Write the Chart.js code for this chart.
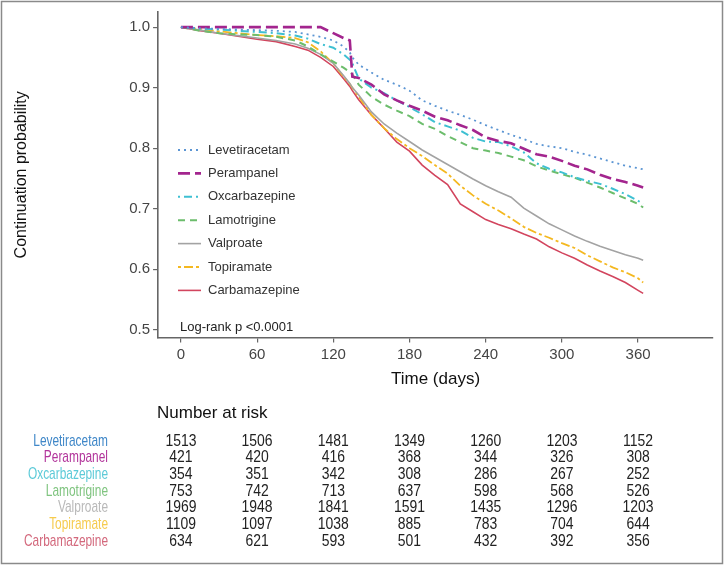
<!DOCTYPE html>
<html>
<head>
<meta charset="utf-8">
<script src="https://cdn.jsdelivr.net/npm/chart.js@4.4.1/dist/chart.umd.min.js"></script>
<style>
  html, body { margin: 0; padding: 0; background: #fff; }
  canvas { display: block; }
</style>
</head>
<body>
<canvas id="kmChart" width="724" height="565"></canvas>
<script>
// follow-up times (days) the curves are read at
const days = [0, 15, 30, 45, 60, 75, 90, 100, 110, 120, 128, 133, 135, 140, 150, 160, 170, 180, 190, 200, 210,
    220, 230, 240, 250, 260, 270, 280, 290, 300, 310, 320, 330, 340, 350, 360, 364];

const levetiracetam = [1.0, 0.998, 0.997, 0.996, 0.995, 0.994, 0.992, 0.988, 0.984, 0.978, 0.968, 0.958, 0.95, 0.938, 0.925, 0.913, 0.905, 0.895, 0.879, 0.87, 0.862,
    0.855, 0.847, 0.838, 0.83, 0.822, 0.815, 0.807, 0.803, 0.8, 0.794, 0.789, 0.783, 0.777, 0.771, 0.767, 0.765];
const perampanel = [1.0, 1.0, 1.0, 1.0, 1.0, 1.0, 1.0, 1.0, 1.0, 0.99, 0.982, 0.978, 0.918, 0.916, 0.905, 0.889, 0.879, 0.87, 0.862, 0.852, 0.846,
    0.838, 0.83, 0.818, 0.812, 0.808, 0.799, 0.79, 0.786, 0.779, 0.771, 0.765, 0.756, 0.749, 0.744, 0.738, 0.735];
const oxcarbazepine = [1.0, 0.998, 0.996, 0.994, 0.992, 0.99, 0.986, 0.981, 0.972, 0.966, 0.955, 0.946, 0.94, 0.915, 0.9, 0.891, 0.879, 0.868, 0.856, 0.843, 0.836,
    0.829, 0.817, 0.811, 0.81, 0.803, 0.793, 0.775, 0.766, 0.76, 0.752, 0.746, 0.741, 0.733, 0.724, 0.713, 0.708];
const lamotrigine = [1.0, 0.994, 0.99, 0.988, 0.987, 0.984, 0.978, 0.968, 0.955, 0.943, 0.933, 0.926, 0.922, 0.905, 0.885, 0.872, 0.862, 0.853, 0.84, 0.832, 0.82,
    0.81, 0.8, 0.796, 0.792, 0.786, 0.78, 0.77, 0.763, 0.757, 0.751, 0.743, 0.735, 0.726, 0.717, 0.708, 0.702];
const valproate = [1.0, 0.995, 0.99, 0.986, 0.982, 0.978, 0.972, 0.965, 0.955, 0.94, 0.92, 0.907, 0.9, 0.888, 0.86, 0.84, 0.825, 0.811, 0.797, 0.785, 0.773,
    0.761, 0.749, 0.738, 0.728, 0.719, 0.701, 0.688, 0.675, 0.665, 0.655, 0.646, 0.638, 0.631, 0.624, 0.618, 0.615];
const topiramate = [1.0, 0.997, 0.993, 0.99, 0.987, 0.985, 0.982, 0.975, 0.96, 0.94, 0.918, 0.906, 0.9, 0.885, 0.855, 0.833, 0.815, 0.8, 0.787, 0.772, 0.758,
    0.738, 0.722, 0.708, 0.697, 0.684, 0.67, 0.66, 0.652, 0.643, 0.635, 0.623, 0.613, 0.603, 0.595, 0.585, 0.578];
const carbamazepine = [1.0, 0.994, 0.99, 0.985, 0.98, 0.976, 0.968, 0.962, 0.95, 0.935, 0.915, 0.902, 0.895, 0.88, 0.855, 0.833, 0.81, 0.795, 0.772, 0.755, 0.74,
    0.708, 0.695, 0.682, 0.674, 0.667, 0.658, 0.65, 0.637, 0.627, 0.618, 0.607, 0.597, 0.588, 0.578, 0.565, 0.56];

const drugNames = ["Levetiracetam", "Perampanel", "Oxcarbazepine", "Lamotrigine", "Valproate", "Topiramate", "Carbamazepine"];

// number at risk, one row per drug, at the x tick times
const riskTimes = [0, 60, 120, 180, 240, 300, 360];
const riskLevetiracetam = [1513, 1506, 1481, 1349, 1260, 1203, 1152];
const riskPerampanel = [421, 420, 416, 368, 344, 326, 308];
const riskOxcarbazepine = [354, 351, 342, 308, 286, 267, 252];
const riskLamotrigine = [753, 742, 713, 637, 598, 568, 526];
const riskValproate = [1969, 1948, 1841, 1591, 1435, 1296, 1203];
const riskTopiramate = [1109, 1097, 1038, 885, 783, 704, 644];
const riskCarbamazepine = [634, 621, 593, 501, 432, 392, 356];

const yTicks = [0.5, 0.6, 0.7, 0.8, 0.9, 1.0];
const xTicks = [0, 60, 120, 180, 240, 300, 360];

const series = [levetiracetam, perampanel, oxcarbazepine, lamotrigine, valproate, topiramate, carbamazepine];
const riskRows = [riskLevetiracetam, riskPerampanel, riskOxcarbazepine, riskLamotrigine, riskValproate, riskTopiramate, riskCarbamazepine];

const lineColors = ["#5b95d3", "#a3258e", "#3ec0d2", "#6cbd6c", "#a3a3a3", "#f4b820", "#d2455e"];
const labelColors = ["#3f87c8", "#b2349b", "#5ccad8", "#7fc47f", "#b9b9b9", "#f6cb4e", "#d3687c"];
const dashes = [[2, 4], [12, 5], [2, 4, 8, 4], [7, 5], [], [3, 3, 9, 3], []];
const widths = [1.8, 2.6, 2, 2, 1.6, 1.8, 1.6];

const FONT = "'Liberation Sans', Arial, sans-serif";

const datasets = series.map((vals, i) => ({
    label: drugNames[i],
    data: days.map((d, j) => ({ x: d, y: vals[j] })),
    borderColor: lineColors[i],
    borderWidth: widths[i],
    borderDash: dashes[i],
    tension: 0,
    pointRadius: 0,
    fill: false,
}));

// condensed text, the table font is narrow in the original
function narrowText(ctx, text, x, y, sx) {
    ctx.save();
    ctx.translate(x, y);
    ctx.scale(sx, 1);
    ctx.fillText(text, 0, 0);
    ctx.restore();
}

// legend inside the plot + log-rank text + risk table + outer frame
const extras = {
    id: "extras",
    afterDraw(chart) {
        const ctx = chart.ctx;
        const xs = chart.scales.x;
        ctx.save();

        // legend
        ctx.font = "13px " + FONT;
        ctx.textBaseline = "middle";
        ctx.textAlign = "left";
        datasets.forEach((ds, i) => {
            const y = 150 + i * 23.4;
            ctx.strokeStyle = ds.borderColor;
            ctx.lineWidth = ds.borderWidth;
            ctx.setLineDash(ds.borderDash);
            ctx.beginPath();
            ctx.moveTo(178, y);
            ctx.lineTo(201, y);
            ctx.stroke();
            ctx.setLineDash([]);
            ctx.fillStyle = "#333";
            ctx.fillText(ds.label, 208, y);
        });
        ctx.fillStyle = "#222";
        ctx.fillText("Log-rank p <0.0001", 180, 327);

        // number at risk
        ctx.font = "17px " + FONT;
        ctx.fillStyle = "#111";
        ctx.fillText("Number at risk", 157, 413);
        riskRows.forEach((row, i) => {
            const y = 441 + i * 16.7;
            ctx.font = "17px " + FONT;
            ctx.textAlign = "right";
            ctx.fillStyle = labelColors[i];
            narrowText(ctx, drugNames[i], 108, y, 0.7);
            ctx.textAlign = "center";
            ctx.fillStyle = "#222";
            row.forEach((n, k) => {
                narrowText(ctx, String(n), xs.getPixelForValue(riskTimes[k]), y, 0.82);
            });
        });

        // frame
        ctx.strokeStyle = "#8a8a8a";
        ctx.lineWidth = 1.5;
        ctx.strokeRect(1.5, 1.5, 721, 562);
        ctx.restore();
    },
};

new Chart(document.getElementById("kmChart"), {
    type: "line",
    data: { datasets },
    options: {
        responsive: false,
        animation: false,
        devicePixelRatio: 1,
        layout: { padding: { left: 10, right: 11, top: 10, bottom: 175 } },
        plugins: { legend: { display: false }, tooltip: { enabled: false } },
        scales: {
            x: {
                type: "linear",
                min: -18,
                max: 419,
                afterBuildTicks: (s) => { s.ticks = xTicks.map((v) => ({ value: v })); },
                ticks: { color: "#444", font: { size: 15, family: FONT }, padding: 3 },
                grid: { drawOnChartArea: false, drawTicks: true, tickLength: 5, color: "#666", lineWidth: 1.2 },
                border: { display: true, color: "#666", width: 1.6 },
                title: { display: true, text: "Time (days)", color: "#111", font: { size: 17, family: FONT }, padding: { top: 3, bottom: 0 } },
            },
            y: {
                min: 0.487,
                max: 1.025,
                afterBuildTicks: (s) => { s.ticks = yTicks.map((v) => ({ value: v })); },
                ticks: { color: "#444", font: { size: 15, family: FONT }, padding: 3, callback: (v) => v.toFixed(1) },
                grid: { drawOnChartArea: false, drawTicks: true, tickLength: 5, color: "#666", lineWidth: 1.2 },
                border: { display: true, color: "#666", width: 1.6 },
                title: { display: true, text: "Continuation probability", color: "#111", font: { size: 16, family: FONT }, padding: { top: 2, bottom: 95 } },
            },
        },
    },
    plugins: [extras],
});
</script>
</body>
</html>
